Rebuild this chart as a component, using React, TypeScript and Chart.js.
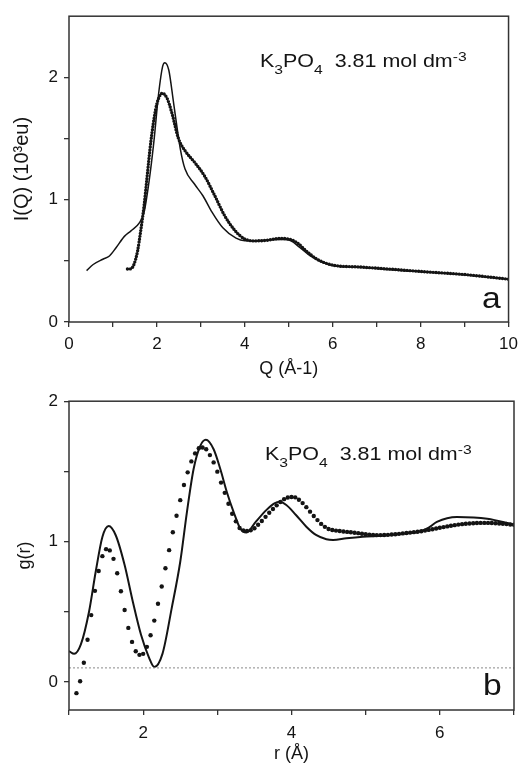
import React, { useEffect, useRef } from "react";
import { Chart, registerables } from "chart.js";
Chart.register(...registerables);

// ---------- Panel a : I(Q) ----------
const qSolid = [0.40, 0.55, 0.77, 0.92, 1.07, 1.26, 1.41, 1.60, 1.71, 1.82, 1.93, 2.04, 2.13, 2.18, 2.27, 2.38, 2.53, 2.64, 2.85, 3.05, 3.25, 3.50, 3.80, 4.00, 4.30, 4.60, 4.85, 5.04, 5.25, 5.49, 5.75, 6.01, 6.40, 6.69, 7.20, 8.19, 9.00, 10.00];
const iSolid = [0.42, 0.47, 0.513, 0.54, 0.607, 0.70, 0.745, 0.81, 0.90, 1.145, 1.47, 1.87, 2.09, 2.12, 2.06, 1.79, 1.42, 1.25, 1.13, 1.03, 0.90, 0.77, 0.685, 0.665, 0.665, 0.672, 0.675, 0.665, 0.61, 0.54, 0.49, 0.46, 0.45, 0.446, 0.43, 0.406, 0.385, 0.35];
const qDotted = [1.33, 1.41, 1.48, 1.56, 1.63, 1.71, 1.78, 1.86, 1.97, 2.04, 2.12, 2.23, 2.34, 2.49, 2.64, 2.87, 3.09, 3.32, 3.54, 3.77, 3.99, 4.22, 4.50, 4.80, 5.00, 5.19, 5.40, 5.64, 5.85, 6.09, 6.60, 7.20, 8.20, 9.00, 10.00];
const iDotted = [0.433, 0.435, 0.473, 0.58, 0.742, 0.957, 1.198, 1.468, 1.736, 1.83, 1.87, 1.83, 1.71, 1.50, 1.40, 1.30, 1.19, 1.03, 0.87, 0.75, 0.68, 0.663, 0.668, 0.683, 0.678, 0.648, 0.58, 0.514, 0.48, 0.46, 0.45, 0.435, 0.408, 0.388, 0.35];
const aXTicks = [0, 1, 2, 3, 4, 5, 6, 7, 8, 9, 10];
const aXLabels = [0, 2, 4, 6, 8, 10];
const aYTicks = [0, 0.5, 1, 1.5, 2];
const aYLabels = [0, 1, 2];

// ---------- Panel b : g(r) ----------
const rSolid = [1.00, 1.07, 1.16, 1.27, 1.36, 1.45, 1.535, 1.63, 1.75, 1.86, 1.97, 2.08, 2.15, 2.26, 2.385, 2.50, 2.59, 2.68, 2.77, 2.845, 2.95, 3.04, 3.13, 3.22, 3.31, 3.39, 3.52, 3.66, 3.77, 3.84, 3.93, 4.06, 4.20, 4.33, 4.47, 4.56, 4.74, 4.96, 5.23, 5.50, 5.74, 5.85, 5.96, 6.23, 6.64, 7.00];
const gSolid = [0.22, 0.20, 0.267, 0.50, 0.785, 1.033, 1.111, 1.045, 0.833, 0.573, 0.338, 0.172, 0.106, 0.20, 0.526, 0.856, 1.21, 1.517, 1.682, 1.725, 1.658, 1.517, 1.35, 1.21, 1.092, 1.065, 1.142, 1.224, 1.272, 1.283, 1.26, 1.189, 1.106, 1.047, 1.017, 1.012, 1.024, 1.035, 1.042, 1.055, 1.074, 1.10, 1.14, 1.175, 1.163, 1.12];
const rDots = [1.10, 1.15, 1.20, 1.25, 1.30, 1.35, 1.40, 1.45, 1.50, 1.55, 1.60, 1.65, 1.70, 1.75, 1.80, 1.85, 1.90, 1.95, 2.00, 2.05, 2.10, 2.15, 2.20, 2.25, 2.30, 2.35, 2.40, 2.45, 2.50, 2.55, 2.60, 2.65, 2.70, 2.75, 2.80, 2.85, 2.90, 2.95, 3.00, 3.05, 3.10, 3.15, 3.20, 3.25, 3.30, 3.35, 3.40, 3.45, 3.50, 3.55, 3.60, 3.65, 3.70, 3.75, 3.80, 3.85, 3.90, 3.95, 4.00, 4.05, 4.10, 4.15, 4.20, 4.25, 4.30, 4.35, 4.40, 4.45, 4.50, 4.55, 4.60, 4.65, 4.70, 4.75, 4.80, 4.85, 4.90, 4.95, 5.00, 5.05, 5.10, 5.15, 5.20, 5.25, 5.30, 5.35, 5.40, 5.45, 5.50, 5.55, 5.60, 5.65, 5.70, 5.75, 5.80, 5.85, 5.90, 5.95, 6.00, 6.05, 6.10, 6.15, 6.20, 6.25, 6.30, 6.35, 6.40, 6.45, 6.50, 6.55, 6.60, 6.65, 6.70, 6.75, 6.80, 6.85, 6.90, 6.95, 7.00];
const gDots = [-0.08, 0.005, 0.137, 0.30, 0.476, 0.649, 0.79, 0.896, 0.946, 0.937, 0.877, 0.774, 0.646, 0.512, 0.385, 0.285, 0.219, 0.193, 0.20, 0.25, 0.333, 0.437, 0.557, 0.68, 0.81, 0.939, 1.066, 1.184, 1.295, 1.403, 1.493, 1.571, 1.628, 1.665, 1.670, 1.658, 1.616, 1.564, 1.498, 1.42, 1.347, 1.269, 1.198, 1.144, 1.097, 1.08, 1.075, 1.08, 1.095, 1.12, 1.147, 1.176, 1.205, 1.232, 1.258, 1.282, 1.302, 1.314, 1.318, 1.315, 1.298, 1.274, 1.245, 1.213, 1.182, 1.153, 1.126, 1.105, 1.09, 1.082, 1.078, 1.075, 1.072, 1.069, 1.066, 1.063, 1.06, 1.056, 1.052, 1.049, 1.047, 1.046, 1.046, 1.047, 1.048, 1.05, 1.052, 1.055, 1.058, 1.061, 1.064, 1.067, 1.07, 1.074, 1.078, 1.083, 1.088, 1.093, 1.098, 1.103, 1.108, 1.113, 1.117, 1.121, 1.124, 1.127, 1.129, 1.131, 1.132, 1.133, 1.133, 1.133, 1.132, 1.131, 1.129, 1.127, 1.125, 1.122, 1.12];
const refLevel = [0.1];
const bXTicks = [1, 2, 3, 4, 5, 6, 7];
const bXLabels = [2, 4, 6];
const bYTicks = [0, 0.5, 1, 1.5, 2];
const bYLabels = [0, 1, 2];

const FONT = '"Liberation Sans", Arial, Helvetica, sans-serif';
const INK = "#141414";
const AXIS = "#333";
const STRETCH = 1.16;

const pts = (xs: number[], ys: number[]) => xs.map((x, i) => ({ x, y: ys[i] }));

type Part = { t: string; size: number; dy: number };
function drawRich(ctx: CanvasRenderingContext2D, x: number, y: number, parts: Part[]) {
  ctx.save();
  ctx.translate(x, y);
  ctx.scale(STRETCH, 1);
  ctx.fillStyle = INK;
  ctx.textAlign = "left";
  ctx.textBaseline = "alphabetic";
  let cx = 0;
  for (const p of parts) {
    ctx.font = `${p.size}px ${FONT}`;
    ctx.fillText(p.t, cx, p.dy);
    cx += ctx.measureText(p.t).width;
  }
  ctx.restore();
}

function makeDecor(fx: number, fy: number, letter: string, lx: number, ly: number) {
  return {
    id: "decor",
    afterDraw(chart: any) {
      const { ctx, chartArea: ca } = chart;
      ctx.save();
      ctx.strokeStyle = AXIS;
      ctx.lineWidth = 1.5;
      ctx.strokeRect(ca.left, ca.top, ca.right - ca.left, ca.bottom - ca.top);
      ctx.restore();
      const S = 18.5;
      const s = 13.5;
      drawRich(ctx, fx, fy, [
        { t: "K", size: S, dy: 0 },
        { t: "3", size: s, dy: 7 },
        { t: "PO", size: S, dy: 0 },
        { t: "4", size: s, dy: 7 },
        { t: "  3.81 mol dm", size: S, dy: 0 },
        { t: "-3", size: s, dy: -6 },
      ]);
      drawRich(ctx, lx, ly, [{ t: letter, size: 29, dy: 0 }]);
    },
  };
}

function axis(opts: {
  min: number; max: number; ticks: number[]; labels: number[]; fitKey: "width" | "height"; fit: number;
  pad: number; title: string; titleSize: number; titlePad: any;
}) {
  return {
    type: "linear",
    min: opts.min,
    max: opts.max,
    afterBuildTicks: (s: any) => { s.ticks = opts.ticks.map((v) => ({ value: v })); },
    afterFit: (s: any) => { s[opts.fitKey] = opts.fit; },
    grid: { display: true, drawOnChartArea: false, drawTicks: true, tickLength: 5, color: AXIS, lineWidth: 1.3 },
    border: { display: false },
    ticks: {
      autoSkip: false, maxRotation: 0, padding: opts.pad, color: INK,
      font: { family: FONT, size: 17 },
      callback: (v: any) => (opts.labels.includes(Number(v)) ? String(v) : ""),
    },
    title: { display: true, text: opts.title, color: INK, font: { family: FONT, size: opts.titleSize }, padding: opts.titlePad },
  };
}

const common = {
  responsive: false,
  animation: false,
  events: [],
  plugins: { legend: { display: false }, tooltip: { enabled: false } },
};

export default function App() {
  const refA = useRef<HTMLCanvasElement>(null);
  const refB = useRef<HTMLCanvasElement>(null);

  useEffect(() => {
    const a = new Chart(refA.current as HTMLCanvasElement, {
      type: "scatter",
      data: {
        datasets: [
          {
            data: pts(qDotted, iDotted), showLine: true, borderColor: INK, borderWidth: 3.4,
            borderDash: [0, 2.9], borderCapStyle: "round", pointRadius: 0, cubicInterpolationMode: "monotone",
          },
          {
            data: pts(qSolid, iSolid), showLine: true, borderColor: INK, borderWidth: 1.5,
            pointRadius: 0, cubicInterpolationMode: "monotone",
          },
        ],
      } as any,
      options: {
        ...common,
        layout: { padding: { left: 0, top: 11, right: 11, bottom: 0 }, autoPadding: false },
        scales: {
          x: axis({ min: 0, max: 10, ticks: aXTicks, labels: aXLabels, fitKey: "height", fit: 63, pad: 7, title: "Q (Å-1)", titleSize: 18, titlePad: { top: 0, bottom: 5 } }),
          y: axis({ min: 0, max: 2.5, ticks: aYTicks, labels: aYLabels, fitKey: "width", fit: 69, pad: 6, title: "I(Q) (10³eu)", titleSize: 20, titlePad: { top: 10, bottom: 0 } }),
        },
      } as any,
      plugins: [makeDecor(260, 67, "a", 482, 308)],
    });

    const b = new Chart(refB.current as HTMLCanvasElement, {
      type: "scatter",
      data: {
        datasets: [
          {
            data: [{ x: 1, y: refLevel[0] }, { x: 7, y: refLevel[0] }], showLine: true, borderColor: "#8a8a8a",
            borderWidth: 1, borderDash: [2, 2], pointRadius: 0,
          },
          {
            data: pts(rSolid, gSolid), showLine: true, borderColor: INK, borderWidth: 2,
            pointRadius: 0, cubicInterpolationMode: "monotone",
          },
          {
            data: pts(rDots, gDots), showLine: false, pointRadius: 2.2, pointBackgroundColor: INK,
            pointBorderWidth: 0, borderColor: INK,
          },
        ],
      } as any,
      options: {
        ...common,
        layout: { padding: { left: 0, top: 13, right: 11, bottom: 0 }, autoPadding: false },
        scales: {
          x: axis({ min: 1, max: 7, ticks: bXTicks, labels: bXLabels, fitKey: "height", fit: 62, pad: 8, title: "r (Å)", titleSize: 18, titlePad: { top: 0, bottom: 7 } }),
          y: axis({ min: -0.2, max: 2, ticks: bYTicks, labels: bYLabels, fitKey: "width", fit: 69, pad: 6, title: "g(r)", titleSize: 18, titlePad: { top: 14, bottom: 0 } }),
        },
      } as any,
      plugins: [makeDecor(265, 75, "b", 483, 310)],
    });

    return () => { a.destroy(); b.destroy(); };
  }, []);

  return (
    <div style={{ position: "absolute", left: 0, top: 0, width: 525, height: 772, background: "#fff" }}>
      <canvas ref={refA} width={525} height={385} style={{ position: "absolute", left: 0, top: 0, display: "block" }} />
      <canvas ref={refB} width={525} height={387} style={{ position: "absolute", left: 0, top: 385, display: "block" }} />
    </div>
  );
}
